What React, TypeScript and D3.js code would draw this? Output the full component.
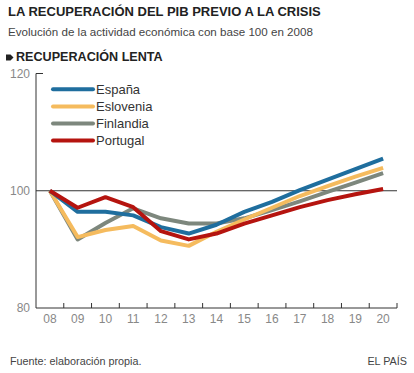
import React from "react";
import * as d3 from "d3";

const years = ["08", "09", "10", "11", "12", "13", "14", "15", "16", "17", "18", "19", "20"];
const espana = [100, 96.4, 96.4, 95.8, 93.8, 92.7, 94.2, 96.4, 98.1, 100.1, 101.9, 103.7, 105.5];
const eslovenia = [100, 92.1, 93.3, 94.0, 91.5, 90.6, 93.0, 95.1, 97.1, 99.1, 100.8, 102.4, 103.9];
const finlandia = [100, 91.7, 94.5, 97.0, 95.3, 94.4, 94.4, 95.3, 96.7, 98.2, 99.8, 101.4, 103.0];
const portugal = [100, 97.1, 98.9, 97.2, 93.1, 91.7, 92.7, 94.4, 95.8, 97.2, 98.4, 99.4, 100.3];
const yTicks = [80, 100, 120];

const seriesNames = ["España", "Eslovenia", "Finlandia", "Portugal"];
const seriesColors = ["#1f6e9e", "#f5bb5e", "#7d877d", "#b5140f"];
const seriesData = [espana, eslovenia, finlandia, portugal];
const drawOrder = [2, 1, 0, 3];

export default function App() {
  const W = 414, H = 373;
  const left = 36, right = 397;
  const x = d3.scaleBand<string>().domain(years).range([left, right]).padding(0);
  const y = d3.scaleLinear().domain([80, 120]).range([308, 73.5]);
  const cx = (d: string) => (x(d) as number) + x.bandwidth() / 2;
  const line = d3
    .line<number>()
    .x((_, i) => cx(years[i]))
    .y((v) => y(v))
    .curve(d3.curveLinear);
  const font = "Arial, 'Liberation Sans', Helvetica, sans-serif";

  return (
    <svg width={W} height={H} style={{ position: "absolute", left: 0, top: 0 }} fontFamily={font}>
      <rect width={W} height={H} fill="#fff" />
      <text x={8} y={16} fontSize={13} fontWeight="bold" fill="#222">
        LA RECUPERACIÓN DEL PIB PREVIO A LA CRISIS
      </text>
      <text x={8} y={36} fontSize={11.6} fill="#444">
        Evolución de la actividad económica con base 100 en 2008
      </text>
      <path d="M6,54.5 L10.5,54.5 L13.5,57.5 L10.5,60.5 L6,60.5 Z" fill="#222" />
      <text x={16} y={61} fontSize={12.6} fontWeight="bold" fill="#222">
        RECUPERACIÓN LENTA
      </text>

      <line x1={left} x2={left} y1={y(120)} y2={y(80)} stroke="#333" strokeWidth={1} />
      <line x1={left} x2={left + 7} y1={y(120)} y2={y(120)} stroke="#333" strokeWidth={1} />
      {yTicks.map((t) => (
        <text key={t} x={30} y={y(t) + 4} fontSize={12} fill="#888" textAnchor="end">
          {t}
        </text>
      ))}
      <line x1={left} x2={right} y1={y(100)} y2={y(100)} stroke="#333" strokeWidth={1} />
      <line x1={left} x2={right} y1={y(80)} y2={y(80)} stroke="#333" strokeWidth={1} />
      {years.slice(1).map((yr) => (
        <line key={yr} x1={x(yr) as number} x2={x(yr) as number} y1={y(80)} y2={y(80) - 5} stroke="#333" strokeWidth={1} />
      ))}
      <line x1={right} x2={right} y1={y(80)} y2={y(80) - 5} stroke="#333" strokeWidth={1} />
      {years.map((yr) => (
        <text key={yr} x={cx(yr)} y={y(80) + 14.5} fontSize={12} fill="#888" textAnchor="middle">
          {yr}
        </text>
      ))}

      {drawOrder.map((i) => (
        <path
          key={seriesNames[i]}
          d={line(seriesData[i]) as string}
          fill="none"
          stroke={seriesColors[i]}
          strokeWidth={4}
          strokeLinejoin="round"
        />
      ))}

      {seriesNames.map((n, i) => (
        <g key={n} transform={`translate(0,${89.3 + i * 17.1})`}>
          <line x1={53} x2={93} y1={0} y2={0} stroke={seriesColors[i]} strokeWidth={4} strokeLinecap="round" />
          <text x={96} y={4.5} fontSize={13} fill="#333">
            {n}
          </text>
        </g>
      ))}

      <text x={10} y={365} fontSize={10.8} fill="#444">
        Fuente: elaboración propia.
      </text>
      <text x={407} y={365} fontSize={10.8} fill="#444" textAnchor="end">
        EL PAÍS
      </text>
    </svg>
  );
}
